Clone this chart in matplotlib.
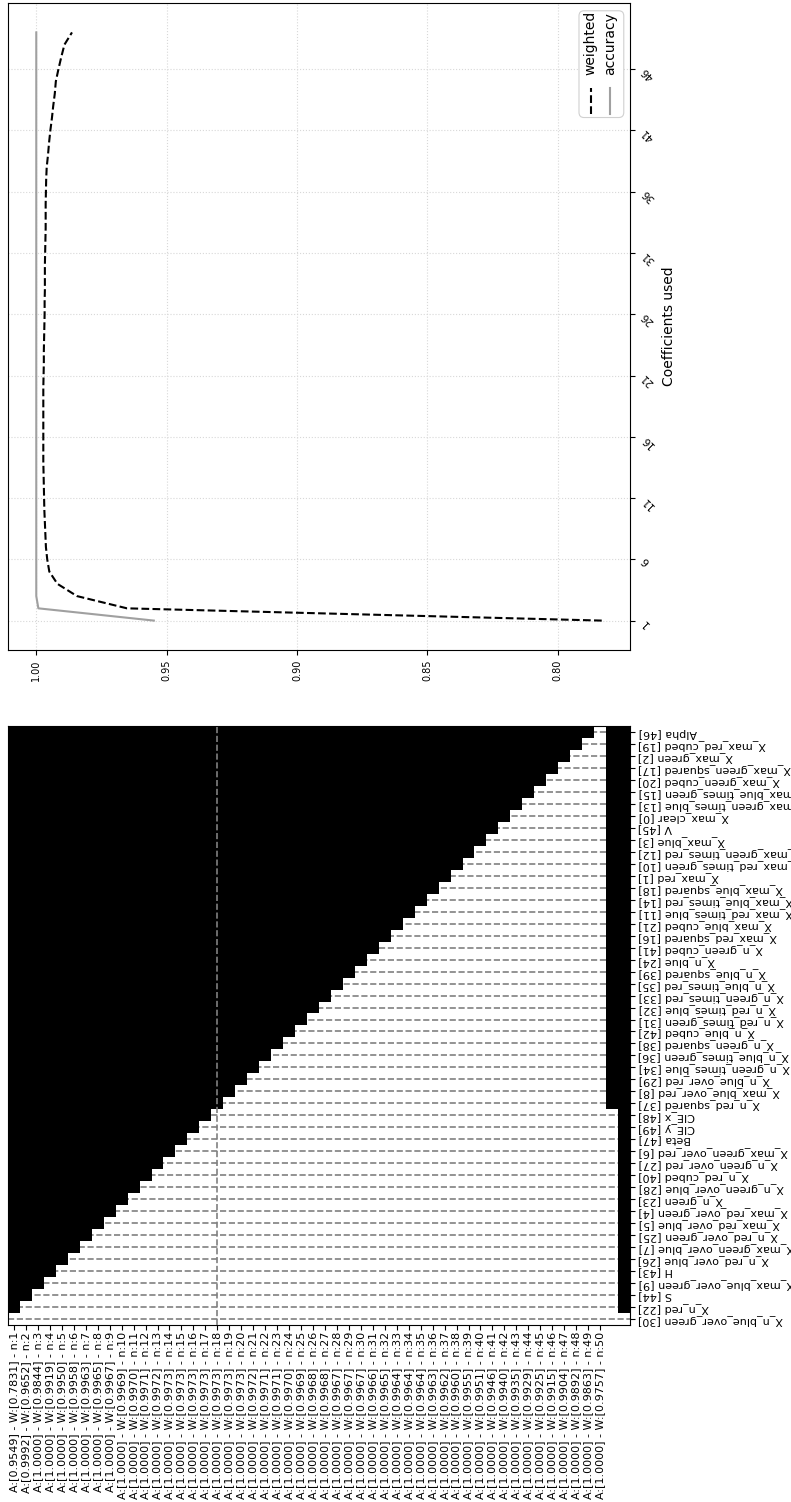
import numpy as np
import matplotlib
matplotlib.use("Agg")
import matplotlib.pyplot as plt
from matplotlib.patches import FancyBboxPatch
from matplotlib.lines import Line2D

# ---------------- data ----------------
n_coef = list(range(1, 51))
accuracy = [0.9549, 0.9992] + [1.0000] * 48
weighted = [0.7831, 0.9652, 0.9844, 0.9919, 0.9950, 0.9958, 0.9963, 0.9965, 0.9967, 0.9969,
            0.9970, 0.9971, 0.9972, 0.9973, 0.9973, 0.9973, 0.9973, 0.9973, 0.9973, 0.9973,
            0.9972, 0.9971, 0.9971, 0.9970, 0.9969, 0.9968, 0.9968, 0.9967, 0.9967, 0.9967,
            0.9966, 0.9965, 0.9964, 0.9964, 0.9964, 0.9963, 0.9962, 0.9960, 0.9955, 0.9951,
            0.9946, 0.9940, 0.9935, 0.9929, 0.9925, 0.9915, 0.9904, 0.9892, 0.9863, 0.9757]
n_plotted = 49  # points drawn in the line chart

# features, top row to bottom row of the heatmap
features = ["Alpha [46]", "X_max_red_cubed [19]", "X_max_green [2]", "X_max_green_squared [17]",
            "X_max_green_cubed [20]", "X_max_blue_times_green [15]", "X_max_green_times_blue [13]",
            "X_max_clear [0]", "V [45]", "X_max_blue [3]", "X_max_green_times_red [12]",
            "X_max_red_times_green [10]", "X_max_red [1]", "X_max_blue_squared [18]",
            "X_max_blue_times_red [14]", "X_max_red_times_blue [11]", "X_max_blue_cubed [21]",
            "X_max_red_squared [16]", "X_n_green_cubed [41]", "X_n_blue [24]",
            "X_n_blue_squared [39]", "X_n_blue_times_red [35]", "X_n_green_times_red [33]",
            "X_n_red_times_blue [32]", "X_n_red_times_green [31]", "X_n_blue_cubed [42]",
            "X_n_green_squared [38]", "X_n_blue_times_green [36]", "X_n_green_times_blue [34]",
            "X_n_blue_over_red [29]", "X_max_blue_over_red [8]", "X_n_red_squared [37]",
            "CIE_x [48]", "CIE_y [49]", "Beta [47]", "X_max_green_over_red [6]",
            "X_n_green_over_red [27]", "X_n_red_cubed [40]", "X_n_green_over_blue [28]",
            "X_n_green [23]", "X_max_red_over_green [4]", "X_max_red_over_blue [5]",
            "X_n_red_over_green [25]", "X_max_green_over_blue [7]", "X_n_red_over_blue [26]",
            "H [43]", "X_max_blue_over_green [9]", "S [44]", "X_n_red [22]",
            "X_n_blue_over_green [30]"]
chosen_n = 18
ytick_vals = list(range(1, 50, 5))

# ---------------- figure ----------------
W, H = 791, 1502
fig = plt.figure(figsize=(W / 100, H / 100), dpi=100)

def box(l, t, r, b):
    return [l / W, 1 - b / H, (r - l) / W, (b - t) / H]

# ---- top line chart ----
ax1 = fig.add_axes(box(8, 3, 630, 650))
ax1.plot(weighted[:n_plotted], n_coef[:n_plotted], color="black", ls="--", lw=1.5)
ax1.plot(accuracy[:n_plotted], n_coef[:n_plotted], color="#a0a0a0", lw=1.5)
ax1.invert_xaxis()
ax1.yaxis.tick_right()
ax1.yaxis.set_label_position("right")
ax1.set_yticks(ytick_vals)
ax1.set_xticks([1.00, 0.95, 0.90, 0.85, 0.80])
ax1.tick_params(axis="y", labelrotation=135, labelsize=7.5)
ax1.tick_params(axis="x", labelrotation=90, labelsize=7)
ax1.set_ylabel("Coefficients used", fontsize=10)
ax1.grid(True, color="#d8d8d8", ls=":", lw=0.8)

# rotated legend
ax1.add_patch(FancyBboxPatch((0.918, 0.823), 0.072, 0.165, transform=ax1.transAxes,
                             boxstyle="round,pad=0,rounding_size=0.008",
                             facecolor="white", edgecolor="#d0d0d0", lw=0.8, zorder=5))
ax1.add_line(Line2D([0.937, 0.937], [0.828, 0.868], transform=ax1.transAxes,
                    color="black", ls="--", lw=1.5, zorder=6))
ax1.add_line(Line2D([0.968, 0.968], [0.828, 0.868], transform=ax1.transAxes,
                    color="#a0a0a0", lw=1.5, zorder=6))
ax1.text(0.937, 0.888, "weighted", transform=ax1.transAxes, rotation=90,
         ha="center", va="bottom", fontsize=10, zorder=6)
ax1.text(0.968, 0.888, "accuracy", transform=ax1.transAxes, rotation=90,
         ha="center", va="bottom", fontsize=10, zorder=6)

# ---- bottom heatmap ----
nf = len(features)
rank_from_bottom = np.arange(nf, 0, -1)[:, None]          # 50 ... 1
model_size = np.array(n_coef)[None, :]
used = rank_from_bottom <= model_size                      # feature used in model n
chosen_col = (rank_from_bottom <= chosen_n)
extra_col = np.zeros((nf, 1), dtype=bool)
extra_col[-1, 0] = True
mat = np.hstack([used, chosen_col, extra_col]).astype(float)
masked = np.ma.masked_where(mat > 0.5, np.zeros_like(mat))

cmap = matplotlib.colors.ListedColormap(["black"])
cmap.set_bad((1, 1, 1, 0))

ax2 = fig.add_axes(box(8, 726, 630, 1325))
ax2.set_axisbelow(True)
ax2.imshow(masked, cmap=cmap, aspect="auto", interpolation="nearest", zorder=1)
ax2.set_xticks(range(len(n_coef)))
ax2.set_xticklabels([f"A:[{a:.4f}] - W:[{w:.4f}] - n:{n}"
                     for a, w, n in zip(accuracy, weighted, n_coef)],
                    rotation=90, fontsize=8)
ax2.yaxis.tick_right()
ax2.set_yticks(range(nf))
ax2.set_yticklabels(features, rotation=180, fontsize=8)
ax2.tick_params(axis="x", length=3.5, pad=1.5)
ax2.tick_params(axis="y", length=3.5, pad=2.5)
ax2.grid(axis="y", color="gray", ls="--", lw=1.2)
ax2.axvline(chosen_n - 1, color="gray", ls="--", lw=1.2, zorder=3)

fig.savefig("out.png", dpi=100)
